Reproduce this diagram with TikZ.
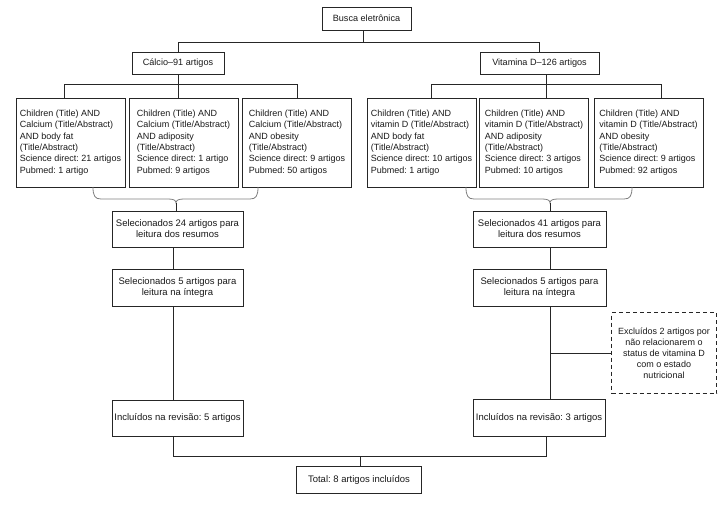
\documentclass[tikz,border=0pt]{standalone}
\usepackage{fontspec}
\setmainfont{Liberation Sans}
\newcommand\nohyphx{\hyphenpenalty=10000\relax\frenchspacing}
\begin{document}
\begin{tikzpicture}[x=1pt,y=-1pt,
  every node/.style={font=\fontsize{9.5}{11}\selectfont, text=black!90, execute at begin node=\nohyphx},
  box/.style={draw=black!85, line width=0.8pt, inner sep=0pt, align=center},
  childbox/.style={draw=black!85, line width=0.8pt, align=left, inner sep=0pt,
    minimum width=109pt, minimum height=89pt,
    font=\fontsize{9}{11.3}\selectfont},
  exbox/.style={draw=black!85, line width=0.8pt, dashed, dash pattern=on 4pt off 3pt,
    align=center, inner sep=0pt, font=\fontsize{9}{11}\selectfont},
  conn/.style={draw=black!85, line width=0.8pt},
  bracel/.style={draw=black!50, line width=0.8pt}]
\useasboundingbox (0,0) rectangle (726,504);

% top
\node[box, minimum width=89pt, minimum height=23pt, font=\fontsize{9.1}{11}\selectfont] (busca) at (366.5,18.5) {Busca eletrônica};
\node[box, minimum width=92pt, minimum height=22pt, font=\fontsize{9.1}{11}\selectfont] (calcio) at (178,63) {Cálcio–91 artigos};
\node[box, minimum width=119pt, minimum height=22pt, font=\fontsize{9.1}{11}\selectfont] (vitd) at (539.5,63) {Vitamina D–126 artigos};

% children boxes
\node[childbox] (c1) at (70.5,142.5) {Children (Title) AND\\Calcium (Title/Abstract)\\AND body fat\\(Title/Abstract)\\Science direct: 21 artigos\\Pubmed: 1 artigo};
\node[childbox] (c2) at (183.5,142.5) {Children (Title) AND\\Calcium (Title/Abstract)\\AND adiposity\\(Title/Abstract)\\Science direct: 1 artigo\\Pubmed: 9 artigos};
\node[childbox] (c3) at (297,142.5) {Children (Title) AND\\Calcium (Title/Abstract)\\AND obesity\\(Title/Abstract)\\Science direct: 9 artigos\\Pubmed: 50 artigos};
\node[childbox] (v1) at (421.5,142.5) {Children (Title) AND\\vitamin D (Title/Abstract)\\AND body fat\\(Title/Abstract)\\Science direct: 10 artigos\\Pubmed: 1 artigo};
\node[childbox] (v2) at (534,142.5) {Children (Title) AND\\vitamin D (Title/Abstract)\\AND adiposity\\(Title/Abstract)\\Science direct: 3 artigos\\Pubmed: 10 artigos};
\node[childbox] (v3) at (648.5,142.5) {Children (Title) AND\\vitamin D (Title/Abstract)\\AND obesity\\(Title/Abstract)\\Science direct: 9 artigos\\Pubmed: 92 artigos};

% middle boxes
\node[box, minimum width=131pt, minimum height=36pt] (s24) at (177.5,229) {Selecionados 24 artigos para\\leitura dos resumos};
\node[box, minimum width=133pt, minimum height=36pt] (s41) at (539.5,229) {Selecionados 41 artigos para\\leitura dos resumos};
\node[box, minimum width=131pt, minimum height=37pt] (r5L) at (177.5,287.5) {Selecionados 5 artigos para\\leitura na íntegra};
\node[box, minimum width=133pt, minimum height=37pt] (r5R) at (539.5,287.5) {Selecionados 5 artigos para\\leitura na íntegra};
\node[exbox, minimum width=105pt, minimum height=81pt] (exc) at (664,353) {Excluídos 2 artigos por\\não relacionarem o\\status de vitamina D\\com o estado\\nutricional};
\node[box, minimum width=131pt, minimum height=36pt] (inc5) at (177.5,418) {Incluídos na revisão: 5 artigos};
\node[box, minimum width=132pt, minimum height=37pt] (inc3) at (539,417.5) {Incluídos na revisão: 3 artigos};
\node[box, minimum width=125pt, minimum height=27pt] (total) at (359,480) {Total: 8 artigos incluídos};

% junction coordinates
\coordinate (jt) at (363,42);
\coordinate (jtL) at (178,42);
\coordinate (jtR) at (539,42);
\coordinate (jc) at (178,84);
\coordinate (jc1) at (64,84);
\coordinate (jc3) at (297,84);
\coordinate (jv) at (546,84);
\coordinate (jv1) at (431,84);
\coordinate (jv3) at (661,84);
\coordinate (xL) at (173,0);
\coordinate (xR) at (550,0);
\coordinate (bL) at (176,203);
\coordinate (bR) at (550,203);
\coordinate (jb) at (360,456);
\coordinate (jbL) at (173,456);
\coordinate (jbR) at (546,456);

% top connectors
\draw[conn] (busca.south -| jt) -- (jt);
\draw[conn] (calcio.north -| jtL) -- (jtL) -- (jtR) -- (vitd.north -| jtR);
\draw[conn] (calcio.south) -- (jc);
\draw[conn] (c1.north -| jc1) -- (jc1) -- (jc3) -- (c3.north -| jc3);
\draw[conn] (jc) -- (c2.north -| jc);
\draw[conn] (vitd.south -| jv) -- (jv);
\draw[conn] (v1.north -| jv1) -- (jv1) -- (jv3) -- (v3.north -| jv3);
\draw[conn] (jv) -- (v2.north -| jv);

% braces
\draw[bracel] (93,187) .. controls (93,196) and (95,199) .. (101,199) -- (168,199)
  .. controls (173,199) and (176,200) .. (bL)
  .. controls (176,200) and (179,199) .. (184,199) -- (250,199)
  .. controls (256,199) and (258,196) .. (258,187);
\draw[bracel] (466,187) .. controls (466,196) and (468,199) .. (474,199) -- (542,199)
  .. controls (547,199) and (550,200) .. (bR)
  .. controls (550,200) and (553,199) .. (558,199) -- (624,199)
  .. controls (630,199) and (632,196) .. (632,187);
\draw[conn] (bL) -- (s24.north -| bL);
\draw[conn] (bR) -- (s41.north -| bR);

% vertical flow
\draw[conn] (s24.south -| xL) -- (r5L.north -| xL);
\draw[conn] (r5L.south -| xL) -- (inc5.north -| xL);
\draw[conn] (s41.south -| xR) -- (r5R.north -| xR);
\draw[conn] (r5R.south -| xR) -- (inc3.north -| xR);
\draw[conn] (exc.west -| xR) -- (exc.west);

% bottom
\draw[conn] (inc5.south -| jbL) -- (jbL) -- (jbR) -- (inc3.south -| jbR);
\draw[conn] (jb) -- (total.north -| jb);
\end{tikzpicture}
\end{document}
